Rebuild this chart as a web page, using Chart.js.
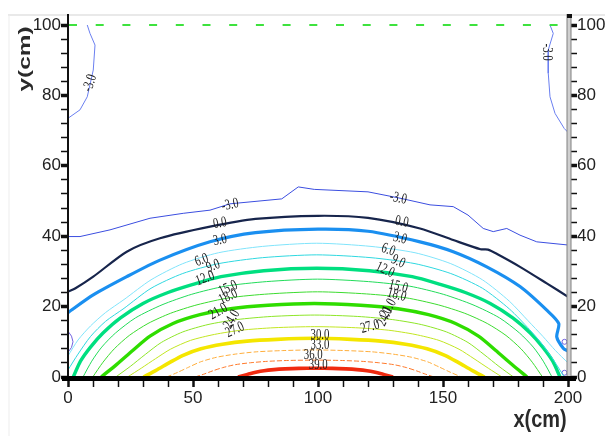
<!DOCTYPE html>
<html><head><meta charset="utf-8">
<script src="https://cdn.jsdelivr.net/npm/chart.js@4.4.0/dist/chart.umd.min.js"></script>
<style>html,body{margin:0;padding:0;background:#fff;}canvas{display:block;}</style>
</head><body>
<canvas id="c" width="605" height="436"></canvas>
<script>
// ---- axis ticks ----
const xTickValues = [0,10,20,30,40,50,60,70,80,90,100,110,120,130,140,150,160,170,180,190,200];
const xTickLabels = ['0','50','100','150','200'];
const yTickValues = [0,4,8,12,16,20,24,28,32,36,40,44,48,52,56,60,64,68,72,76,80,84,88,92,96,100];
const yTickLabels = ['0','20','40','60','80','100'];

// ---- contour lines (x cm, y cm) ----
const cM3Main = [[0,39.9],[4.8,39.9],[16.8,41.8],[32.8,45.1],[46.1,46.5],[56.8,47.4],[64.8,49.2],[85.5,50.6],[92.1,54.0],[98.5,53.3],[120,52.6],[132.8,50.8],[144.8,48.9],[154.1,48.4],[160,46],[166.1,42.2],[170.1,41.3],[175.5,42.2],[180.8,40.3],[187.5,38.4],[200,37.5]];
const cM3TopLeft = [[7.7,100],[8.8,97.6],[10.8,94.3],[10.1,87.2],[7.7,79.6],[4.8,75.9],[0,73.5]];
const cM3TopRight = [[192.8,100],[194.1,97.6],[192.1,92.9],[192.1,86.3],[192.8,79.6],[194.8,74.9],[198.5,70.6],[200,69.5]];
const cM3EdgeBump = [[0,13],[1.4,11.6],[2.0,10],[1.4,8.4],[0,7]];
const c00 = [[0,24.2],[3,25.2],[10.1,28.5],[23.5,35.6],[36.8,39.4],[56.8,42.7],[75,44.9],[100,45.8],[120,45.2],[140.8,42.2],[154.1,38.9],[165,36.3],[168,36.2],[172,34.8],[180.8,31.3],[191.5,26.6],[200,22.8]];
const c03 = [[0,18.3],[10.1,23.3],[23.5,28.5],[36.8,33.2],[56.8,38.4],[75,41],[100,42],[120,41.4],[140.8,38.4],[154.1,35.6],[167.5,31.3],[180.8,25.7],[191.5,19.0],[196.3,15.2],[195.5,11.4],[198.1,8.2],[200,7.4]];
const c06 = [[0,6],[4,10.5],[9,14.5],[15,18.3],[22.4,22],[33.2,27.6],[45.9,32.2],[60.2,35.3],[77.8,37.1],[99.5,38],[121.2,37.1],[138.8,35.3],[153.1,32.2],[165.8,27.6],[176.6,21.5],[184,16],[190,11.5],[195,7.5],[200,4]];
const c09 = [[0,2],[4,6.5],[9,11.5],[15,15.8],[22.4,19.5],[33.2,25.2],[45.9,29.4],[60.2,32.2],[77.8,33.9],[99.5,34.7],[121.2,33.9],[138.8,32.2],[153.1,29.4],[165.8,25.2],[176.6,19.3],[184.6,13.5],[190,9],[194.5,4.5],[198.5,0]];
const c12 = [[2.1,0],[5,4.5],[9,8.5],[14,12.5],[21,16.8],[30,20.9],[40,24],[50,26.3],[61.2,28.5],[78.3,30.2],[99.5,30.9],[120.6,30.2],[137.7,28.5],[148.9,26.3],[158.9,24],[168.9,20.9],[177.9,16.8],[184.9,12.5],[189.9,8.5],[193.9,4.5],[196.8,0]];
const c15 = [[6,0],[9.5,4.5],[13.5,8.5],[19,12.5],[27,16.8],[37.6,20.5],[49.5,23.5],[62.9,25.8],[79.4,27.1],[99.8,27.8],[120.2,27.1],[136.7,25.8],[150.1,23.5],[162,20.5],[172.6,16.8],[180.6,12.5],[186.1,8.5],[190.1,4.5],[193.6,0]];
const c18 = [[9.9,0],[14,4.2],[18.5,8],[24.5,11.8],[32,15.2],[41,18.1],[51.6,20.5],[64.5,22.5],[80.3,23.6],[99.8,24.2],[119.4,23.6],[135.2,22.5],[148.1,20.5],[158.7,18.1],[167.7,15.2],[175.2,11.8],[181.2,8],[185.7,4.2],[189.8,0]];
const c21 = [[13.3,0],[19.5,3.6],[26,7.6],[32.8,11.6],[42,15.2],[52.8,17.7],[65,19.4],[80,20.4],[98.5,20.9],[117,20.4],[132,19.4],[144.2,17.7],[155,15.2],[164.2,11.6],[171,7.6],[177.5,3.6],[183.6,0]];
const c24 = [[19.1,0],[24.9,3.0],[30.9,6.4],[37.3,9.8],[45.9,12.8],[56.0,14.9],[67.4,16.3],[81.4,17.2],[98.7,17.6],[115.9,17.2],[129.9,16.3],[141.3,14.9],[151.4,12.8],[160.0,9.8],[166.4,6.4],[172.4,3.0],[178.2,0]];
const c27 = [[23.8,0],[29.3,2.5],[35.0,5.2],[41.0,7.9],[49.0,10.4],[58.6,12.1],[69.3,13.3],[82.4,14.0],[98.7,14.3],[115.0,14.0],[128.1,13.3],[138.8,12.1],[148.4,10.4],[156.4,7.9],[162.4,5.2],[168.1,2.5],[173.6,0]];
const c30 = [[30.2,0],[35.2,1.9],[40.4,4.0],[45.8,6.1],[53.2,8.0],[61.8,9.3],[71.6,10.2],[83.6,10.7],[98.4,11],[113.2,10.7],[125.2,10.2],[135.0,9.3],[143.6,8.0],[151.0,6.1],[156.4,4.0],[161.6,1.9],[166.6,0]];
const c33 = [[39.5,0],[43.8,1.3],[48.3,2.8],[53.0,4.3],[59.4,5.6],[66.9,6.5],[75.3,7.15],[85.7,7.5],[98.5,7.7],[111.2,7.5],[121.6,7.15],[130.0,6.5],[137.5,5.6],[143.9,4.3],[148.6,2.8],[153.1,1.3],[157.4,0]];
const c36 = [[50.8,0],[54.3,0.8],[57.9,1.75],[61.8,2.65],[66.9,3.5],[73.0,4.05],[79.8,4.45],[88.3,4.7],[98.7,4.8],[109.0,4.7],[117.5,4.45],[124.3,4.05],[130.4,3.5],[135.5,2.65],[139.4,1.75],[143.0,0.8],[146.5,0]];
const c39 = [[68,0],[70.3,0.45],[72.6,0.9],[75.1,1.35],[78.4,1.8],[82.4,2.1],[86.8,2.3],[92.3,2.45],[99,2.5],[105.7,2.45],[111.2,2.3],[115.6,2.1],[119.6,1.8],[122.9,1.35],[125.4,0.9],[127.7,0.45],[130,0]];
const edgeMarks = [[198.6,10],[198.6,1.2]];

// ---- contour labels ----
const labelText = ['-3.0','-3.0','-3.0','-3.0','0.0','0.0','3.0','3.0','6.0','6.0','9.0','9.0','12.0','12.0','15.0','15.0','18.0','18.0','21.0','21.0','24.0','24.0','27.0','27.0','30.0','33.0','36.0','39.0'];
const labelX = [8.8,191.6,64.8,132.1,60.8,133.5,60.8,132.8,53.5,128.1,58.1,132.1,54.8,126.8,64.1,132.1,64.1,131.5,60.1,128.1,65.5,126.8,66.8,120.8,100.8,100.8,98.1,100.1];
const labelY = [83.5,92.3,48.9,50.8,43.7,44.1,38.9,39.4,33.2,36.1,31.5,32.8,28.0,30.4,25.2,25.7,22.8,23.3,18.6,19.5,16.4,17.1,13.4,14.3,11.9,9.1,6.3,3.4];
const labelAngle = [-72,90,-12,12,-10,10,-12,15,-20,20,-20,25,-20,25,-25,15,-25,15,-30,-60,-60,-65,-25,-15,0,0,0,0];

function pts(a){ return a.map(p => ({x:p[0], y:p[1]})); }
function line(data, color, width, dash){
  return {data: pts(data), showLine:true, borderColor:color, borderWidth:width, pointRadius:0,
          tension:0.25, fill:false, borderDash: dash || []};
}
function jag(data, color, width){
  const d = line(data, color, width); d.tension = 0; return d;
}

const datasets = [
  jag(cM3Main, '#3b4ee0', 1),
  jag(cM3TopLeft, '#6a7ff0', 1),
  jag(cM3TopRight, '#6a7ff0', 1),
  jag(cM3EdgeBump, '#7060e0', 1),
  line(c00, '#17254c', 2.2),
  line(c03, '#1a8ff0', 3.2),
  line(c06, '#80e4fb', 1),
  line(c09, '#2fd8e0', 1),
  line(c12, '#00df80', 3.4),
  line(c15, '#22dc5a', 1),
  line(c18, '#3ddc30', 1),
  line(c21, '#2fdd00', 3.4),
  line(c24, '#8ee628', 1),
  line(c27, '#c2e622', 1),
  line(c30, '#f4e600', 3.6),
  line(c33, '#ffae3c', 1, [5,2]),
  line(c36, '#ff7a2c', 1, [5,2]),
  line(c39, '#f02a10', 3.6),
  {data: pts(edgeMarks), showLine:false, pointRadius:2.5, pointBorderColor:'#7060e0', pointBackgroundColor:'rgba(0,0,0,0)', pointBorderWidth:1}
];

const decor = {
  id:'decor',
  beforeDraw(chart){
    const c = chart.ctx;
    c.save();
    c.strokeStyle = '#e2e2e2'; c.lineWidth = 1.5;
    c.beginPath(); c.moveTo(8, 15); c.lineTo(605, 15); c.stroke();
    c.strokeStyle = '#ededed'; c.lineWidth = 1;
    c.beginPath(); c.moveTo(9, 15); c.lineTo(9, 436); c.stroke();
    c.restore();
  },
  afterDatasetsDraw(chart){
    const c = chart.ctx, xs = chart.scales.x, ys = chart.scales.y;
    const x0 = xs.getPixelForValue(0), x1 = xs.getPixelForValue(200);
    const y0 = ys.getPixelForValue(0), y1 = ys.getPixelForValue(100);
    c.save();
    // green dashed line at y = 100
    c.strokeStyle = '#3ee23e'; c.lineWidth = 2; c.setLineDash([8,18.7]);
    c.beginPath(); c.moveTo(x0+1, y1); c.lineTo(x1, y1); c.stroke();
    c.setLineDash([]);
    // contour labels
    c.fillStyle = '#1a1a1a';
    c.font = '12px "Liberation Serif", "Times New Roman", serif';
    c.textAlign = 'center'; c.textBaseline = 'middle';
    for (let i=0;i<labelText.length;i++){
      c.save();
      c.translate(xs.getPixelForValue(labelX[i]), ys.getPixelForValue(labelY[i]));
      c.rotate(labelAngle[i]*Math.PI/180);
      c.scale(0.9, 1.25);
      c.fillText(labelText[i], 0, 0);
      c.restore();
    }
    // left axis
    c.strokeStyle = '#111'; c.lineWidth = 2;
    c.beginPath(); c.moveTo(x0, 14); c.lineTo(x0, y0); c.stroke();
    // right axis (grey double line)
    c.fillStyle = '#d0d0d0'; c.fillRect(x1-1, 14, 4, y0-14);
    c.strokeStyle = '#808080'; c.lineWidth = 1;
    c.beginPath(); c.moveTo(x1-1, 14); c.lineTo(x1-1, y0); c.moveTo(x1+3, 14); c.lineTo(x1+3, y0); c.stroke();
    c.fillStyle = '#111'; c.fillRect(x1-1, 14, 5, 4);
    // bottom axis thick bar
    c.fillStyle = '#000';
    c.fillRect(x0-6, y0-1, (x1+8)-(x0-6), 5);
    // axis titles
    c.fillStyle = '#2a2a2a';
    c.font = 'bold 20px "Liberation Sans", Arial, sans-serif';
    c.textAlign = 'center'; c.textBaseline = 'middle';
    c.save(); c.translate(25, 59); c.rotate(-Math.PI/2); c.scale(1.22, 0.85); c.fillText('y(cm)', 0, 0); c.restore();
    c.save(); c.translate(540, 421); c.scale(0.95, 1.1); c.font = 'bold 21px "Liberation Sans", Arial, sans-serif'; c.fillText('x(cm)', 0, 0); c.restore();
    c.restore();
  }
};

function setTicks(values){ return function(scale){ scale.ticks = values.map(v => ({value:v})); }; }
const tickFont = {family:'"Liberation Sans", Arial, sans-serif', size:17};

new Chart(document.getElementById('c'), {
  type:'scatter',
  data:{datasets},
  options:{
    responsive:false, animation:false, devicePixelRatio:1,
    layout:{padding:{top:25, left:0, right:0, bottom:0}},
    plugins:{legend:{display:false}, tooltip:{enabled:false}},
    scales:{
      x:{type:'linear', min:0, max:200, position:'bottom',
         afterBuildTicks: setTicks(xTickValues),
         afterFit(s){ s.height = 59; },
         ticks:{autoSkip:false, maxRotation:0, padding:1, color:'#222', font:tickFont,
                callback:(v)=> xTickLabels.includes(String(v)) ? String(v) : ''},
         grid:{drawOnChartArea:false, tickLength:10, tickColor:'#111',
               tickWidth:(ctx)=> (ctx.tick && ctx.tick.value % 50 === 0) ? 2.5 : 1.5},
         border:{display:false}},
      y:{type:'linear', min:0, max:100, position:'left',
         afterBuildTicks: setTicks(yTickValues),
         afterFit(s){ s.width = 68; },
         ticks:{autoSkip:false, padding:0, color:'#222', font:tickFont,
                callback:(v)=> yTickLabels.includes(String(v)) ? String(v) : ''},
         grid:{drawOnChartArea:false, tickLength:7, tickColor:'#111',
               tickWidth:(ctx)=> (ctx.tick && ctx.tick.value % 20 === 0) ? 3.5 : 1.5},
         border:{display:false}},
      y2:{type:'linear', min:0, max:100, position:'right',
         afterBuildTicks: setTicks(yTickValues),
         afterFit(s){ s.width = 37; },
         ticks:{autoSkip:false, padding:0, color:'#222', font:tickFont,
                callback:(v)=> yTickLabels.includes(String(v)) ? String(v) : ''},
         grid:{drawOnChartArea:false, tickLength:9, tickColor:'#111',
               tickWidth:(ctx)=> (ctx.tick && ctx.tick.value % 20 === 0) ? 3.5 : 1.5},
         border:{display:false}}
    }
  },
  plugins:[decor]
});
</script>
</body></html>
